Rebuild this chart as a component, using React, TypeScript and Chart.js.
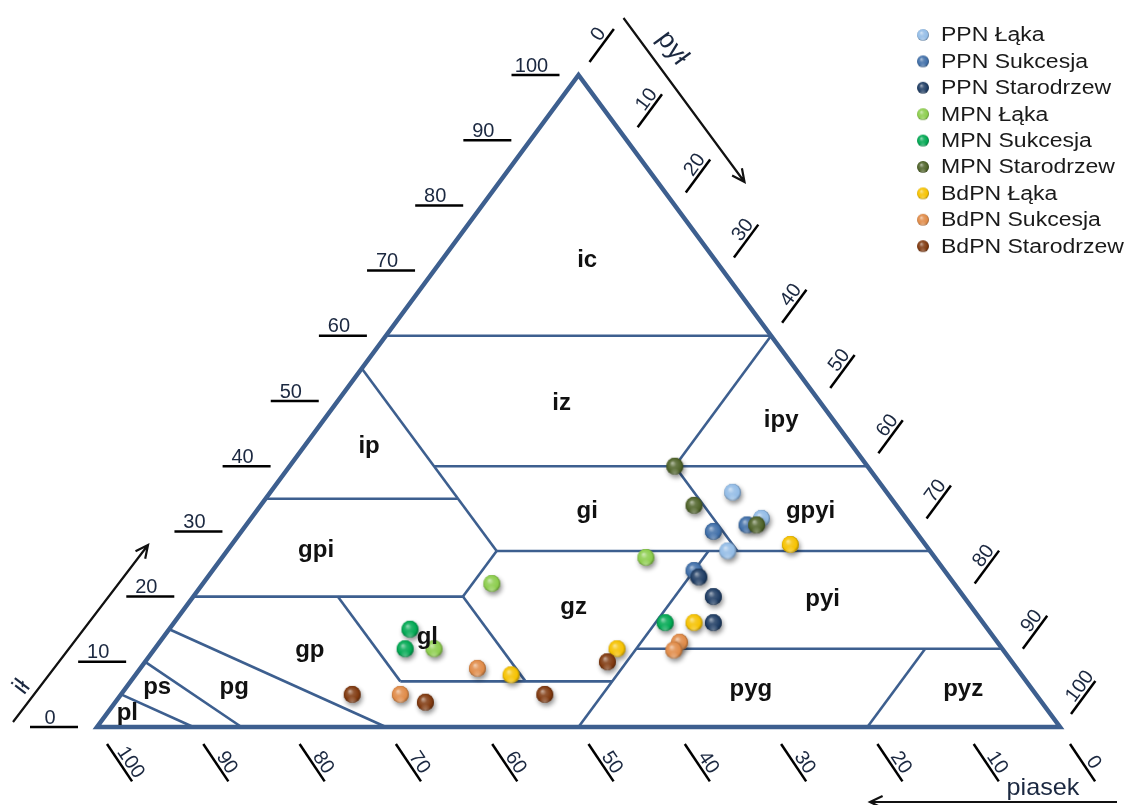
import { useEffect, useRef } from 'react';
import { Chart, registerables } from 'chart.js';

Chart.register(...registerables);

const WIDTH = 1129;
const HEIGHT = 805;
const FONT = "'Liberation Sans', Arial, sans-serif";
const LINE_COLOR = '#3d5f8f';
const TEXT_DARK = '#1b2840';

// Soil texture samples: clay (ił) and silt (pył) in %, sand (piasek) is the remainder.
const seriesLabels = [
  'PPN Łąka', 'PPN Sukcesja', 'PPN Starodrzew',
  'MPN Łąka', 'MPN Sukcesja', 'MPN Starodrzew',
  'BdPN Łąka', 'BdPN Sukcesja', 'BdPN Starodrzew',
];
const seriesColors = [
  '#93bce6', '#3f6ea8', '#1f3d64',
  '#8ccd4c', '#00a852', '#4f6329',
  '#f6c200', '#e08b48', '#80390f',
];

const ppnLakaClay = [36, 32, 27];
const ppnLakaSilt = [48, 53, 52];
const ppnSukcesjaClay = [31, 30, 24];
const ppnSukcesjaSilt = [52, 49, 50];
const ppnStarodrzewClay = [23, 20, 16];
const ppnStarodrzewSilt = [51, 54, 56];
const mpnLakaClay = [26, 22, 12];
const mpnLakaSilt = [44, 30, 29];
const mpnSukcesjaClay = [16, 15, 12];
const mpnSukcesjaSilt = [51, 25, 26];
const mpnStarodrzewClay = [40, 34, 31];
const mpnStarodrzewSilt = [40, 45, 53];
const bdpnLakaClay = [28, 16, 12, 8];
const bdpnLakaSilt = [58, 54, 48, 39];
const bdpnSukcesjaClay = [13, 11.8, 9, 5];
const bdpnSukcesjaSilt = [54, 54, 35, 29];
const bdpnStarodrzewClay = [10, 5, 3.8, 5];
const bdpnStarodrzewSilt = [48, 24, 32.2, 44];

const seriesClay = [
  ppnLakaClay, ppnSukcesjaClay, ppnStarodrzewClay,
  mpnLakaClay, mpnSukcesjaClay, mpnStarodrzewClay,
  bdpnLakaClay, bdpnSukcesjaClay, bdpnStarodrzewClay,
];
const seriesSilt = [
  ppnLakaSilt, ppnSukcesjaSilt, ppnStarodrzewSilt,
  mpnLakaSilt, mpnSukcesjaSilt, mpnStarodrzewSilt,
  bdpnLakaSilt, bdpnSukcesjaSilt, bdpnStarodrzewSilt,
];

// Axis tick values (percent) on every side of the triangle
const tickValues = [0, 10, 20, 30, 40, 50, 60, 70, 80, 90, 100];

// Texture class borders, each point as [sand, silt, clay]
const outline: number[][] = [[100, 0, 0], [0, 100, 0], [0, 0, 100], [100, 0, 0], [0, 100, 0]];
const borders: number[][][] = [
  [[40, 0, 60], [0, 40, 60]],
  [[45, 15, 40], [0, 60, 40]],
  [[0, 40, 60], [20, 40, 40]],
  [[45, 0, 55], [45, 28, 27]],
  [[65, 0, 35], [45, 20, 35]],
  [[20, 40, 40], [20, 53, 27]],
  [[45, 28, 27], [0, 73, 27]],
  [[45, 28, 27], [52, 28, 20]],
  [[80, 0, 20], [52, 28, 20]],
  [[65, 15, 20], [65, 28, 7]],
  [[52, 28, 20], [52, 41, 7]],
  [[65, 28, 7], [43, 50, 7]],
  [[23, 50, 27], [50, 50, 0]],
  [[38, 50, 12], [0, 88, 12]],
  [[8, 80, 12], [20, 80, 0]],
  [[85, 0, 15], [70, 30, 0]],
  [[90, 0, 10], [85, 15, 0]],
  [[95, 0, 5], [90, 10, 0]],
];

// Texture class names with the [silt, clay] spot where each name sits
const classNames = ['ic', 'iz', 'ipy', 'ip', 'gi', 'gpyi', 'gpi', 'gz', 'gl', 'gp', 'pg', 'ps', 'pl', 'pyi', 'pyg', 'pyz'];
const classSpots = [
  [15.1, 71.6], [23.4, 49.7], [47.5, 47.1], [6.7, 43.1], [34.4, 33.0], [57.6, 33.0],
  [9.2, 27.1], [40.3, 18.4], [27.4, 13.8], [16.2, 11.8], [11.2, 6.1], [3.2, 6.1],
  [2.1, 2.1], [65.6, 19.5], [65.0, 5.8], [87.1, 5.7],
];

const toXY = (silt: number, clay: number) => ({ x: silt + clay / 2, y: clay });

function shade(hex: string, target: number, amount: number) {
  const n = parseInt(hex.slice(1), 16);
  const ch = [(n >> 16) & 255, (n >> 8) & 255, n & 255].map((v) => Math.round(v + (target - v) * amount));
  return `rgb(${ch[0]},${ch[1]},${ch[2]})`;
}

function makeSphere(color: string, r: number, withShadow: boolean) {
  const pad = withShadow ? 8 : 2;
  const size = Math.ceil(2 * (r + pad));
  const c = document.createElement('canvas');
  c.width = size;
  c.height = size;
  const ctx = c.getContext('2d')!;
  const cx = size / 2;
  const cy = size / 2;
  if (withShadow) {
    ctx.save();
    ctx.shadowColor = 'rgba(0,0,0,0.45)';
    ctx.shadowBlur = 5;
    ctx.shadowOffsetX = 1.5;
    ctx.shadowOffsetY = 3;
    ctx.beginPath();
    ctx.arc(cx, cy, r, 0, Math.PI * 2);
    ctx.fillStyle = color;
    ctx.fill();
    ctx.restore();
  }
  const g = ctx.createRadialGradient(cx - r * 0.3, cy - r * 0.4, 0, cx, cy, r * 1.1);
  g.addColorStop(0, shade(color, 255, 0.6));
  g.addColorStop(0.35, shade(color, 255, 0.15));
  g.addColorStop(0.75, color);
  g.addColorStop(1, shade(color, 0, 0.45));
  ctx.beginPath();
  ctx.arc(cx, cy, r, 0, Math.PI * 2);
  ctx.fillStyle = g;
  ctx.fill();
  // soft rim light at the bottom
  const rim = ctx.createRadialGradient(cx, cy + r * 0.9, 0, cx, cy + r * 0.9, r * 0.7);
  rim.addColorStop(0, 'rgba(255,255,255,0.35)');
  rim.addColorStop(1, 'rgba(255,255,255,0)');
  ctx.fillStyle = rim;
  ctx.beginPath();
  ctx.arc(cx, cy, r, 0, Math.PI * 2);
  ctx.fill();
  return c;
}

function drawArrow(ctx: CanvasRenderingContext2D, x1: number, y1: number, x2: number, y2: number) {
  const a = Math.atan2(y2 - y1, x2 - x1);
  const h = 14;
  const s = 0.45;
  ctx.beginPath();
  ctx.moveTo(x1, y1);
  ctx.lineTo(x2, y2);
  ctx.moveTo(x2 - h * Math.cos(a - s), y2 - h * Math.sin(a - s));
  ctx.lineTo(x2, y2);
  ctx.lineTo(x2 - h * Math.cos(a + s), y2 - h * Math.sin(a + s));
  ctx.stroke();
}

function rotatedText(ctx: CanvasRenderingContext2D, text: string, x: number, y: number, angle: number, stretch = 1) {
  ctx.save();
  ctx.translate(x, y);
  ctx.rotate(angle);
  ctx.scale(stretch, 1);
  ctx.fillText(text, 0, 0);
  ctx.restore();
}

function tickWithLabel(
  ctx: CanvasRenderingContext2D, x0: number, y0: number, angle: number, len: number, label: string, along: number,
) {
  ctx.save();
  ctx.translate(x0, y0);
  ctx.rotate(angle);
  ctx.beginPath();
  ctx.moveTo(0, 0);
  ctx.lineTo(len, 0);
  ctx.strokeStyle = '#000';
  ctx.lineWidth = 2.5;
  ctx.stroke();
  ctx.fillStyle = TEXT_DARK;
  ctx.font = `20px ${FONT}`;
  ctx.textAlign = 'center';
  ctx.textBaseline = 'alphabetic';
  ctx.fillText(label, len / 2 + along, -3.5);
  ctx.restore();
}

const decorPlugin = {
  id: 'ternaryDecor',
  afterDatasetsDraw(chart: any) {
    const { ctx } = chart;
    const xs = chart.scales.x;
    const ys = chart.scales.y;
    const px = (silt: number, clay: number) => {
      const p = toXY(silt, clay);
      return [xs.getPixelForValue(p.x), ys.getPixelForValue(p.y)];
    };

    ctx.save();
    // class names
    ctx.fillStyle = '#111';
    ctx.font = `bold 24px ${FONT}`;
    ctx.textAlign = 'center';
    ctx.textBaseline = 'middle';
    classNames.forEach((name, i) => {
      const [x, y] = px(classSpots[i][0], classSpots[i][1]);
      ctx.fillText(name, x, y);
    });

    const [blx, bly] = px(0, 0);
    const [brx, bry] = px(100, 0);
    const [tx, ty] = px(0, 100);
    const leftDir = Math.atan2(ty - bly, tx - blx);
    const bottomTickDir = 0.98;

    tickValues.forEach((v) => {
      // clay (left side)
      const [lx, ly] = px(0, v);
      tickWithLabel(ctx, lx - 67, ly, 0, 48, String(v), -4);
      // silt (right side)
      const [rx, ry] = px(v, 100 - v);
      tickWithLabel(ctx, rx + 11, ry - 13, leftDir, 41, String(v), 7);
      // sand (bottom)
      const [bx, by] = px(100 - v, 0);
      tickWithLabel(ctx, bx + 10, by + 17, bottomTickDir, 45, String(v), 6);
    });

    // axis arrows and names
    ctx.strokeStyle = '#111';
    ctx.fillStyle = '#111';
    ctx.lineWidth = 2.2;
    ctx.lineJoin = 'miter';
    drawArrow(ctx, blx - 84, bly - 5, blx + 51, bly - 182);
    drawArrow(ctx, tx + 45, ty - 57, tx + 166, ty + 107);
    drawArrow(ctx, brx + 57, bry + 75, brx - 190, bry + 75);

    ctx.fillStyle = TEXT_DARK;
    ctx.textAlign = 'center';
    ctx.textBaseline = 'middle';
    ctx.font = `25px ${FONT}`;
    rotatedText(ctx, 'ił', blx - 75, bly - 40, Math.atan2(-177, 135));
    ctx.font = `26px ${FONT}`;
    rotatedText(ctx, 'pył', tx + 94, ty - 27, Math.atan2(164, 121), 1.05);
    ctx.textBaseline = 'alphabetic';
    ctx.font = `24px ${FONT}`;
    rotatedText(ctx, 'piasek', brx - 17, bry + 68, 0, 1.05);

    ctx.restore();
  },
  afterDraw(chart: any) {
    const { ctx } = chart;
    const spheres = chart.$legendSpheres as HTMLCanvasElement[];
    ctx.save();
    ctx.font = `19.5px ${FONT}`;
    ctx.fillStyle = '#1a1a1a';
    ctx.textAlign = 'left';
    ctx.textBaseline = 'middle';
    seriesLabels.forEach((label, i) => {
      const y = 35 + i * 26.4;
      const s = spheres[i];
      ctx.drawImage(s, 923 - s.width / 2, y - s.height / 2);
      ctx.save();
      ctx.translate(941, y + 1);
      ctx.scale(1.18, 1);
      ctx.fillText(label, 0, 0);
      ctx.restore();
    });
    ctx.restore();
  },
};

export default function App() {
  const canvasRef = useRef<HTMLCanvasElement>(null);

  useEffect(() => {
    document.body.style.margin = '0';
    const canvas = canvasRef.current!;

    const lineSets = [outline, ...borders].map((seg, i) => ({
      label: `border-${i}`,
      data: seg.map(([, silt, clay]) => toXY(silt, clay)),
      showLine: true,
      borderColor: LINE_COLOR,
      backgroundColor: LINE_COLOR,
      borderWidth: i === 0 ? 4.5 : 2.6,
      borderJoinStyle: 'miter' as const,
      pointRadius: 0,
      pointHoverRadius: 0,
      fill: false,
      tension: 0,
      clip: false as const,
      order: 100,
    }));

    const pointSets = seriesLabels.map((label, i) => ({
      label,
      data: seriesClay[i].map((clay, j) => toXY(seriesSilt[i][j], clay)),
      pointStyle: makeSphere(seriesColors[i], 8.5, true),
      pointRadius: 8.5,
      pointHoverRadius: 8.5,
      showLine: false,
      clip: false as const,
      order: 50 - i,
    }));

    const chart: any = new Chart(canvas, {
      type: 'scatter',
      data: { datasets: [...lineSets, ...pointSets] as any },
      options: {
        responsive: false,
        animation: false,
        devicePixelRatio: 1,
        layout: { padding: { left: 97, right: 69, top: 75, bottom: 78 } },
        scales: {
          x: { type: 'linear', min: 0, max: 100, display: false },
          y: { type: 'linear', min: 0, max: 100, display: false },
        },
        plugins: {
          legend: { display: false },
          tooltip: { enabled: false },
        },
        events: [],
      },
      plugins: [
        {
          id: 'legendSpheres',
          beforeInit(c: any) {
            c.$legendSpheres = seriesColors.map((col) => makeSphere(col, 6, false));
          },
        },
        decorPlugin,
      ],
    });

    return () => chart.destroy();
  }, []);

  return (
    <div style={{ position: 'absolute', left: 0, top: 0, width: WIDTH, height: HEIGHT, background: '#fff' }}>
      <canvas ref={canvasRef} width={WIDTH} height={HEIGHT} style={{ display: 'block', width: WIDTH, height: HEIGHT }} />
    </div>
  );
}
